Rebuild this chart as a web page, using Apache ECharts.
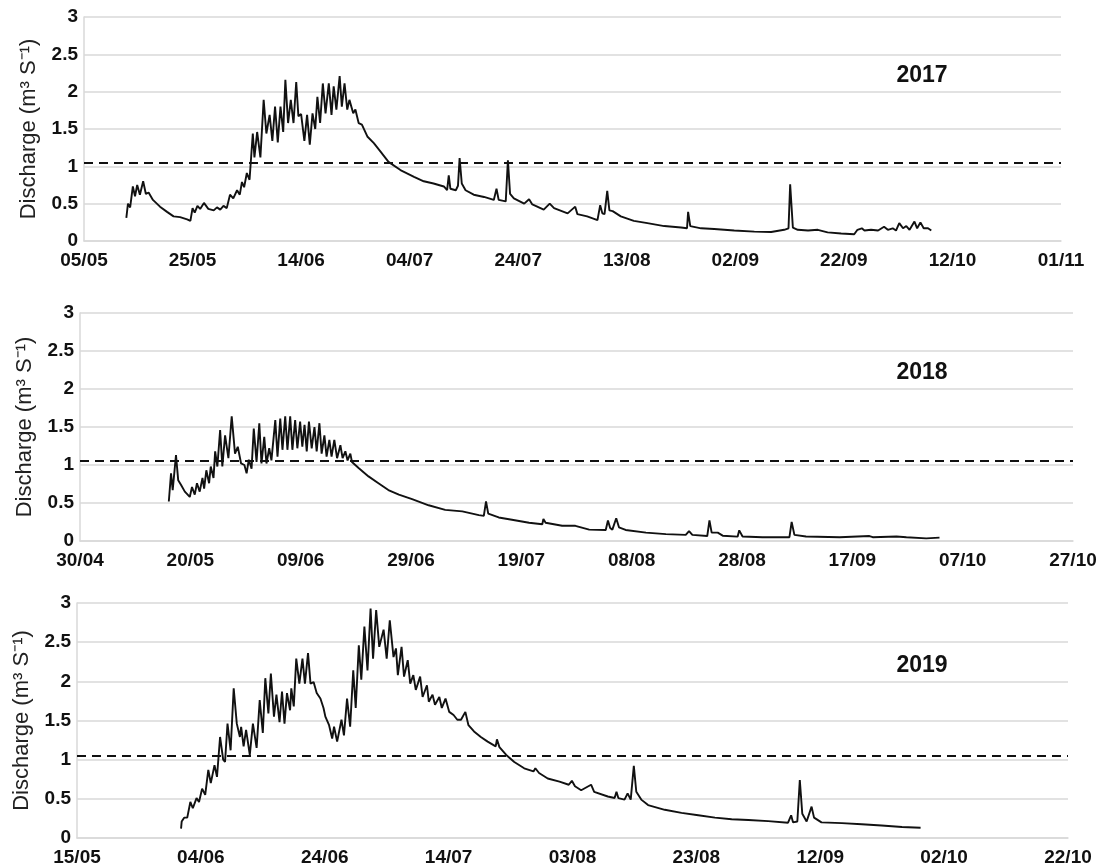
<!DOCTYPE html>
<html>
<head>
<meta charset="utf-8">
<title>Discharge 2017-2019</title>
<script src="https://cdn.jsdelivr.net/npm/echarts@6/dist/echarts.min.js"></script>
<style>
  html, body { margin: 0; padding: 0; background: #ffffff; }
  #chart { width: 1105px; height: 867px; }
</style>
</head>
<body>
<div id="chart"></div>
<script>
// Discharge threshold drawn as a dashed reference line (m3/s)
const threshold = 1.05;

// ---- 2017: days after 05/05, discharge (m3/s) ----
const ticks2017 = ['05/05','25/05','14/06','04/07','24/07','13/08','02/09','22/09','12/10','01/11'];
const day2017 = [
  7.8,8.1,8.5,9.0,9.4,9.8,10.3,10.9,11.4,11.9,12.7,14.0,15.3,16.5,17.7,19.0,19.6,20.0,20.4,20.9,
  21.4,22.1,22.9,23.9,24.5,25.1,25.7,26.3,26.9,27.5,28.2,28.7,29.1,29.5,30.0,30.5,31.1,31.4,31.9,32.5,
  33.1,33.6,34.2,34.7,35.2,35.7,36.2,36.7,37.1,37.6,38.1,38.6,39.1,39.5,40.0,40.6,41.1,41.6,42.1,42.6,
  43.0,43.5,44.0,44.5,45.1,45.6,46.0,46.5,47.1,47.5,48.0,48.5,48.9,49.6,50.0,50.6,51.2,52.2,53.4,54.6,
  56.1,58.3,60.8,62.6,64.4,66.3,66.9,67.2,67.5,68.5,68.9,69.2,69.6,70.3,71.8,73.7,75.5,76.0,76.4,77.7,
  78.1,78.5,79.2,81.1,82.0,82.6,84.7,85.8,86.6,89.1,90.5,90.9,92.7,94.6,95.1,95.5,95.9,96.4,96.8,97.4,
  98.9,101.3,103.8,106.9,110.0,111.1,111.3,111.7,113.7,116.1,119.8,123.5,126.6,129.0,129.8,130.1,130.6,131.5,133.4,135.2,
  137.0,139.5,141.9,142.5,143.3,143.8,145.0,146.3,147.4,148.1,149.0,149.6,150.2,150.9,151.5,152.1,153.0,153.5,154.1,154.7,
  155.5,156.1
];
const flow2017 = [
  0.31,0.50,0.45,0.73,0.60,0.75,0.62,0.80,0.63,0.65,0.55,0.46,0.39,0.33,0.32,0.29,0.27,0.44,0.38,0.47,
  0.43,0.51,0.43,0.41,0.45,0.42,0.47,0.44,0.62,0.57,0.68,0.62,0.79,0.72,0.91,0.82,1.44,1.12,1.46,1.12,
  1.89,1.44,1.69,1.34,1.80,1.32,1.80,1.46,2.16,1.58,1.89,1.58,2.13,1.67,1.70,1.34,1.69,1.29,1.71,1.50,
  1.93,1.58,2.11,1.71,2.11,1.69,2.07,1.76,2.21,1.80,2.11,1.76,1.89,1.71,1.76,1.58,1.56,1.40,1.31,1.20,
  1.06,0.95,0.86,0.80,0.77,0.73,0.68,0.88,0.70,0.68,0.74,1.11,0.77,0.68,0.62,0.59,0.55,0.70,0.55,0.53,
  1.08,0.63,0.57,0.50,0.56,0.49,0.42,0.50,0.44,0.37,0.46,0.36,0.33,0.28,0.48,0.37,0.36,0.67,0.41,0.40,
  0.33,0.27,0.24,0.20,0.18,0.17,0.39,0.20,0.17,0.16,0.14,0.125,0.12,0.15,0.17,0.76,0.18,0.15,0.14,0.15,
  0.115,0.10,0.09,0.15,0.17,0.14,0.15,0.14,0.19,0.15,0.17,0.14,0.24,0.17,0.20,0.15,0.26,0.17,0.25,0.17,
  0.17,0.14
];

// ---- 2018: days after 30/04, discharge (m3/s) ----
const ticks2018 = ['30/04','20/05','09/06','29/06','19/07','08/08','28/08','17/09','07/10','27/10'];
const day2018 = [
  16.1,16.5,16.8,17.4,17.8,18.3,19.0,19.9,20.3,20.8,21.2,21.7,22.2,22.5,22.9,23.4,23.7,24.2,24.5,24.9,
  25.4,25.8,26.3,26.9,27.5,28.1,28.6,29.2,29.8,30.2,30.6,31.1,31.5,32.0,32.5,32.9,33.4,33.8,34.3,34.7,
  35.4,35.8,36.3,36.7,37.2,37.6,38.1,38.5,39.0,39.4,39.9,40.3,40.7,41.1,41.5,42.0,42.5,42.9,43.4,43.8,
  44.3,44.7,45.2,45.6,46.1,46.6,47.2,47.6,48.1,48.5,49.0,49.3,50.5,52.3,54.1,55.9,57.8,60.2,63.2,66.2,
  69.3,72.3,73.2,73.6,74.0,75.9,78.3,81.4,83.8,84.0,84.4,87.4,89.8,92.3,95.3,95.7,96.1,96.5,97.2,97.7,
  98.9,102.6,106.2,109.8,110.4,111.0,113.7,114.1,114.5,115.6,116.5,119.2,119.5,120.1,123.7,128.6,129.0,129.5,131.6,137.7,
  143.1,143.7,148.0,149.8,153.4,155.8
];
const flow2018 = [
  0.52,0.89,0.67,1.13,0.80,0.74,0.65,0.58,0.71,0.61,0.76,0.65,0.83,0.69,0.93,0.76,0.98,0.83,1.18,0.98,
  1.46,0.98,1.39,1.09,1.64,1.15,1.24,1.02,1.00,0.89,1.07,0.95,1.48,1.04,1.55,1.02,1.37,1.02,1.22,1.06,
  1.59,1.11,1.61,1.20,1.64,1.20,1.64,1.20,1.59,1.22,1.57,1.24,1.53,1.18,1.57,1.22,1.50,1.18,1.55,1.15,
  1.39,1.11,1.33,1.11,1.33,1.09,1.26,1.09,1.18,1.06,1.15,1.04,0.96,0.85,0.76,0.67,0.61,0.55,0.47,0.41,
  0.39,0.34,0.33,0.52,0.36,0.31,0.28,0.24,0.22,0.29,0.24,0.20,0.20,0.15,0.145,0.27,0.17,0.15,0.30,0.18,
  0.145,0.11,0.09,0.08,0.13,0.08,0.065,0.27,0.11,0.11,0.07,0.057,0.14,0.06,0.05,0.05,0.25,0.08,0.06,0.05,
  0.065,0.05,0.06,0.05,0.035,0.045
];

// ---- 2019: days after 15/05, discharge (m3/s) ----
const ticks2019 = ['15/05','04/06','24/06','14/07','03/08','23/08','12/09','02/10','22/10'];
const day2019 = [
  16.8,16.9,17.3,17.8,18.3,18.7,19.3,19.7,20.2,20.7,21.2,21.6,22.2,22.6,23.1,23.6,23.9,24.3,24.8,25.3,
  25.8,26.3,26.5,26.9,27.3,27.9,28.4,29.0,29.5,30.0,30.4,30.9,31.3,31.8,32.2,32.7,33.1,33.5,33.9,34.4,
  34.6,35.0,35.4,35.9,36.4,36.8,37.3,37.7,38.2,38.7,39.3,39.8,40.1,40.7,41.2,41.5,42.0,42.7,43.1,43.6,
  44.1,44.6,45.0,45.5,45.9,46.4,46.9,47.4,47.8,48.3,48.8,49.5,50.0,50.5,51.1,51.5,51.8,52.4,52.8,53.4,
  53.8,54.3,54.7,55.4,55.8,56.5,56.8,57.4,57.8,58.5,58.9,59.5,60.1,60.8,61.4,62.0,62.7,63.2,64.1,65.2,
  66.3,67.6,67.8,68.2,69.3,70.6,72.2,73.7,74.0,74.6,76.0,77.9,79.4,79.9,80.4,81.4,83.0,83.5,85.7,86.8,
  87.1,87.4,88.4,88.9,89.4,89.9,90.3,91.1,92.2,94.9,97.6,100.3,103.0,105.7,108.4,111.6,114.8,115.3,115.6,116.3,
  116.7,117.1,117.8,118.6,119.0,120.2,123.5,126.7,129.9,133.2,136.2
];
const flow2019 = [
  0.12,0.21,0.26,0.26,0.46,0.38,0.51,0.46,0.63,0.55,0.87,0.70,0.93,0.78,1.29,1.00,0.97,1.46,1.12,1.91,
  1.46,1.29,1.42,1.17,1.38,1.06,1.46,1.15,1.76,1.34,2.04,1.59,2.10,1.55,1.83,1.48,1.87,1.46,1.85,1.63,
  1.91,1.68,2.29,1.97,2.29,1.97,2.36,1.97,1.99,1.85,1.78,1.66,1.55,1.44,1.27,1.42,1.23,1.51,1.31,1.78,
  1.42,2.14,1.66,2.46,2.02,2.70,2.14,2.93,2.29,2.91,2.44,2.66,2.29,2.78,2.31,2.42,2.08,2.44,2.06,2.27,
  1.97,2.08,1.89,2.06,1.80,1.95,1.74,1.83,1.70,1.80,1.66,1.78,1.61,1.57,1.51,1.51,1.61,1.44,1.36,1.29,
  1.23,1.17,1.26,1.16,1.06,0.97,0.89,0.85,0.89,0.83,0.76,0.72,0.68,0.73,0.66,0.61,0.68,0.59,0.53,0.51,
  0.59,0.51,0.49,0.57,0.49,0.92,0.59,0.49,0.42,0.36,0.32,0.29,0.26,0.24,0.23,0.215,0.195,0.29,0.20,0.21,
  0.74,0.31,0.21,0.40,0.26,0.20,0.19,0.175,0.16,0.14,0.13
];

// ---- layout of the three stacked panels ----
const FONT = '"Liberation Sans", Arial, Helvetica, sans-serif';
const INK = '#111111';
const GRIDLINE = '#d9d9d9';

const panels = [
  { year: '2017', days: day2017, flow: flow2017, ticks: ticks2017, span: 180,
    grid: { left: 84, top: 17, width: 977, height: 224 }, yearAt: [922, 76] },
  { year: '2018', days: day2018, flow: flow2018, ticks: ticks2018, span: 180,
    grid: { left: 80, top: 313, width: 993, height: 228 }, yearAt: [922, 373] },
  { year: '2019', days: day2019, flow: flow2019, ticks: ticks2019, span: 160,
    grid: { left: 77, top: 603, width: 991, height: 235 }, yearAt: [922, 666] }
];

const grids = [], xAxes = [], yAxes = [], series = [], texts = [];

panels.forEach((p, i) => {
  grids.push(Object.assign({ containLabel: false }, p.grid));

  xAxes.push({
    gridIndex: i,
    type: 'value',
    min: 0,
    max: p.span,
    interval: 20,
    axisLine: { show: true, lineStyle: { color: GRIDLINE, width: 1.5 } },
    axisTick: { show: false },
    splitLine: { show: false },
    axisLabel: {
      margin: 10,
      color: INK,
      fontFamily: FONT,
      fontWeight: 'bold',
      fontSize: 19,
      formatter: v => p.ticks[Math.round(v / 20)] || ''
    }
  });

  yAxes.push({
    gridIndex: i,
    type: 'value',
    min: 0,
    max: 3,
    interval: 0.5,
    name: 'Discharge (m³ S⁻¹)',
    nameLocation: 'middle',
    nameGap: 44,
    nameTextStyle: { color: '#222', fontFamily: FONT, fontSize: 22 },
    axisLine: { show: true, lineStyle: { color: GRIDLINE, width: 1.5 } },
    axisTick: { show: false },
    splitLine: { show: true, lineStyle: { color: GRIDLINE, width: 1.5 } },
    axisLabel: {
      margin: 6,
      color: INK,
      fontFamily: FONT,
      fontWeight: 'bold',
      fontSize: 19
    }
  });

  series.push({
    name: p.year,
    type: 'line',
    xAxisIndex: i,
    yAxisIndex: i,
    data: p.days.map((d, k) => [d, p.flow[k]]),
    symbol: 'none',
    lineStyle: { color: INK, width: 1.9 },
    animation: false,
    markLine: {
      silent: true,
      symbol: 'none',
      animation: false,
      label: { show: false },
      lineStyle: { color: INK, type: [9, 6], width: 2 },
      data: [{ yAxis: threshold }]
    }
  });

  texts.push({
    type: 'text',
    x: p.yearAt[0],
    y: p.yearAt[1],
    style: {
      text: p.year,
      fill: INK,
      font: 'bold 23px ' + FONT,
      align: 'center',
      verticalAlign: 'middle',
      textAlign: 'center',
      textVerticalAlign: 'middle'
    }
  });
});

const chart = echarts.init(document.getElementById('chart'), null, { renderer: 'canvas' });
chart.setOption({
  backgroundColor: '#ffffff',
  animation: false,
  grid: grids,
  xAxis: xAxes,
  yAxis: yAxes,
  series: series,
  graphic: texts
});
</script>
</body>
</html>
